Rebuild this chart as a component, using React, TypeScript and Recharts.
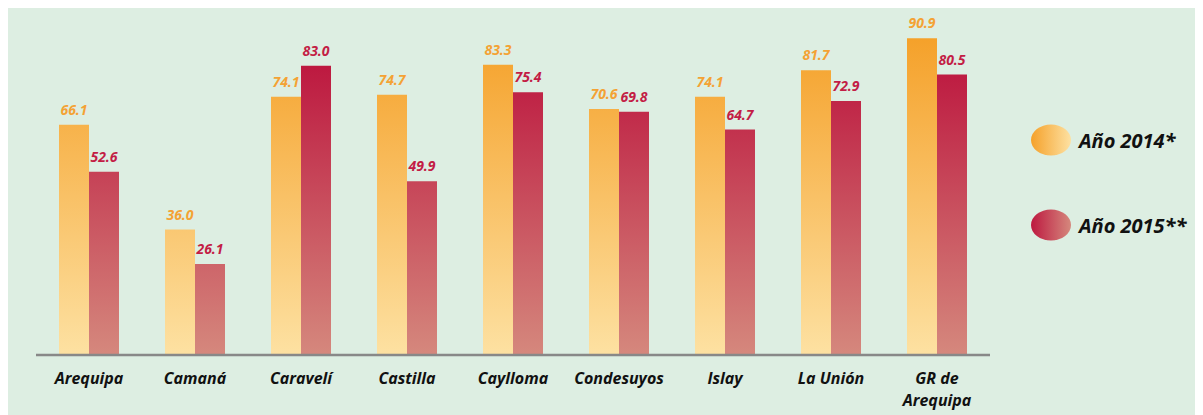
import { BarChart, Bar, XAxis, YAxis, LabelList, Legend } from "recharts";

// Provincias de Arequipa: comparación 2014 vs 2015
const CATEGORIES = ["Arequipa", "Camaná", "Caravelí", "Castilla", "Caylloma", "Condesuyos", "Islay", "La Unión", "GR de\nArequipa"];
const VALUES_2014 = [66.1, 36.0, 74.1, 74.7, 83.3, 70.6, 74.1, 81.7, 90.9];
const VALUES_2015 = [52.6, 26.1, 83.0, 49.9, 75.4, 69.8, 64.7, 72.9, 80.5];
const SERIES_NAMES = ["Año 2014*", "Año 2015**"];

const FONT = "'Open Sans', Lato, sans-serif";
const ORANGE_LABEL = "#f4a234";
const RED_LABEL = "#c31d45";

const data = CATEGORIES.map((name, i) => ({
  name,
  y2014: VALUES_2014[i],
  y2015: VALUES_2015[i],
}));

function CategoryTick({ x, y, payload }: any) {
  const lines = String(payload.value).split("\n");
  return (
    <text
      x={x}
      y={y + 21}
      textAnchor="middle"
      fontFamily={FONT}
      fontSize={16}
      fontWeight="bold"
      fontStyle="italic"
      fill="#111"
    >
      {lines.map((line, i) => (
        <tspan key={i} x={x} dy={i === 0 ? 0 : 22}>
          {line}
        </tspan>
      ))}
    </text>
  );
}

function LegendBox() {
  const items = [
    { name: SERIES_NAMES[0], grad: "legend2014" },
    { name: SERIES_NAMES[1], grad: "legend2015" },
  ];
  return (
    <div style={{ fontFamily: FONT }}>
      {items.map((it, i) => (
        <div key={it.name} style={{ display: "flex", alignItems: "center", height: 32, marginBottom: i === 0 ? 53 : 0 }}>
          <svg width={42} height={32} style={{ display: "block" }}>
            <ellipse cx={21} cy={16} rx={20} ry={15.5} fill={`url(#${it.grad})`} />
          </svg>
          <span style={{ marginLeft: 7, fontSize: 20, fontWeight: "bold", fontStyle: "italic", color: "#111" }}>
            {it.name}
          </span>
        </div>
      ))}
    </div>
  );
}

export default function App() {
  return (
    <div style={{ margin: "-1px 0 0 -1px", width: 1196, height: 408, background: "#ddeee2", position: "relative" }}>
      <BarChart
        width={1196}
        height={408}
        data={data}
        margin={{ top: 17, right: 213, bottom: 30, left: 29 }}
        barGap={0}
        barSize={30}
      >
        <defs>
          <linearGradient id="grad2014" gradientUnits="userSpaceOnUse" x1={0} y1={31} x2={0} y2={348}>
            <stop offset="0%" stopColor="#f5a12a" />
            <stop offset="100%" stopColor="#fde1a2" />
          </linearGradient>
          <linearGradient id="grad2015" gradientUnits="userSpaceOnUse" x1={0} y1={59} x2={0} y2={348}>
            <stop offset="0%" stopColor="#bd1940" />
            <stop offset="100%" stopColor="#d5887d" />
          </linearGradient>
          <linearGradient id="legend2014" x1="0" y1="0" x2="1" y2="0">
            <stop offset="0%" stopColor="#f5a12a" />
            <stop offset="100%" stopColor="#fde1a2" />
          </linearGradient>
          <linearGradient id="legend2015" x1="0" y1="0" x2="1" y2="0">
            <stop offset="0%" stopColor="#bd1940" />
            <stop offset="100%" stopColor="#d5887d" />
          </linearGradient>
        </defs>
        <XAxis
          dataKey="name"
          height={30}
          axisLine={{ stroke: "#888", strokeWidth: 2.5 }}
          tickLine={false}
          tick={<CategoryTick />}
          interval={0}
        />
        <YAxis hide domain={[0, 95]} />
        <Legend
          layout="vertical"
          align="center"
          verticalAlign="middle"
          content={() => <LegendBox />}
          wrapperStyle={{ left: 1023, top: 117, width: 175 }}
        />
        <Bar dataKey="y2014" name={SERIES_NAMES[0]} fill="url(#grad2014)" isAnimationActive={false}>
          <LabelList
            dataKey="y2014"
            position="top"
            offset={10}
            formatter={(v: any) => Number(v).toFixed(1)}
            fill={ORANGE_LABEL}
            fontFamily={FONT}
            fontSize={14}
            fontWeight="bold"
            fontStyle="italic"
          />
        </Bar>
        <Bar dataKey="y2015" name={SERIES_NAMES[1]} fill="url(#grad2015)" isAnimationActive={false}>
          <LabelList
            dataKey="y2015"
            position="top"
            offset={10}
            formatter={(v: any) => Number(v).toFixed(1)}
            fill={RED_LABEL}
            fontFamily={FONT}
            fontSize={14}
            fontWeight="bold"
            fontStyle="italic"
          />
        </Bar>
      </BarChart>
    </div>
  );
}
